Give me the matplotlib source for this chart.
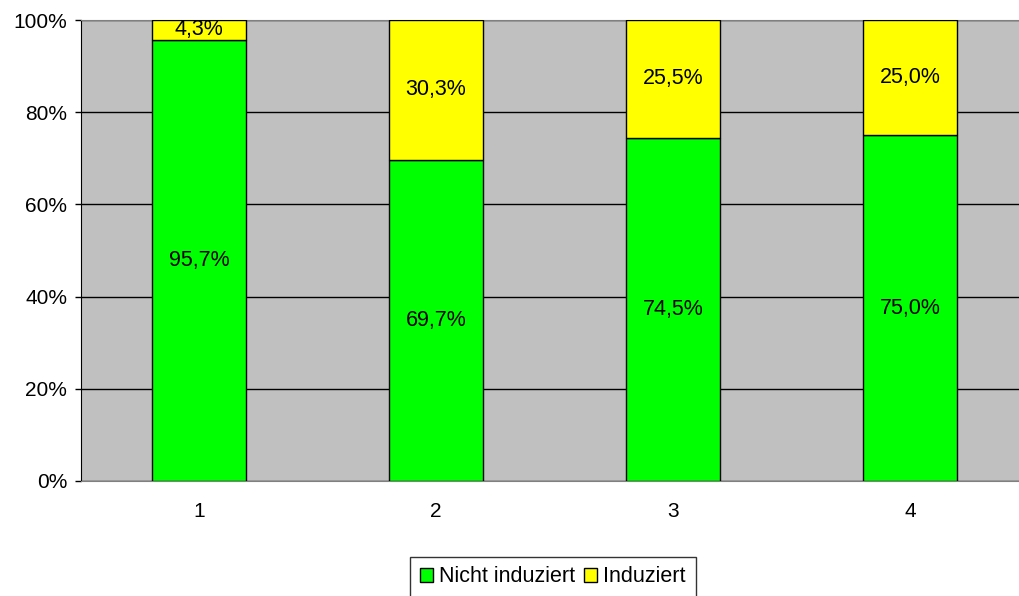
import numpy as np
import matplotlib.pyplot as plt

plt.rcParams['font.family'] = ['Liberation Sans', 'DejaVu Sans']

# Anteile je Gruppe
gruppen = ['1', '2', '3', '4']
nicht_induziert = [95.7, 69.7, 74.5, 75.0]
induziert = [4.3, 30.3, 25.5, 25.0]

fig = plt.figure(figsize=(10.19, 5.96), dpi=100)
# Plotbereich in Pixeln: links 80, oben 20, unten 481, Kategorie-Breite 237
W, H = 1019, 596
ax = fig.add_axes([80.5 / W, (H - 481) / H, 948 / W, 461 / H])
ax.set_facecolor('#C0C0C0')

x = np.arange(len(gruppen))
b1 = ax.bar(x, nicht_induziert, width=0.4, color='#00FF00', edgecolor='black',
            linewidth=1, label='Nicht induziert', zorder=3)
b2 = ax.bar(x, induziert, width=0.4, bottom=nicht_induziert, color='#FFFF00',
            edgecolor='black', linewidth=1, label='Induziert', zorder=3)

# Beschriftungen in der Mitte der Segmente
for i in range(len(gruppen)):
    ax.text(x[i], nicht_induziert[i] / 2, f'{nicht_induziert[i]:.1f}%'.replace('.', ','),
            ha='center', va='center', fontsize=15.5, zorder=4)
    ax.text(x[i], nicht_induziert[i] + induziert[i] / 2, f'{induziert[i]:.1f}%'.replace('.', ','),
            ha='center', va='center', fontsize=15.5, zorder=4)

ax.set_xlim(-0.5, 3.5)
ax.set_ylim(0, 100)
ax.set_yticks(np.arange(0, 101, 20))
ax.set_yticklabels([f'{v}%' for v in range(0, 101, 20)])
ax.set_xticks(x)
ax.set_xticklabels(gruppen)
ax.tick_params(axis='y', length=4.5, width=1, labelsize=15, pad=5)
ax.tick_params(axis='x', length=0, labelsize=15, pad=15)

ax.yaxis.grid(True, color='black', linewidth=1, zorder=1)
ax.set_axisbelow(True)
ax.spines['left'].set_color('black')
ax.spines['bottom'].set_color('#808080')
ax.spines['top'].set_color('#808080')
ax.spines['right'].set_visible(False)

leg = fig.legend(handles=[b1, b2], loc='center', bbox_to_anchor=(553 / W, (H - 577) / H),
                 ncol=2, fontsize=15.5, frameon=True, fancybox=False, edgecolor='black',
                 handlelength=0.6, handleheight=0.6, handletextpad=0.3, columnspacing=0.4,
                 borderpad=0.45, borderaxespad=0)
leg.get_frame().set_linewidth(1)

fig.savefig('out.png', dpi=100)
